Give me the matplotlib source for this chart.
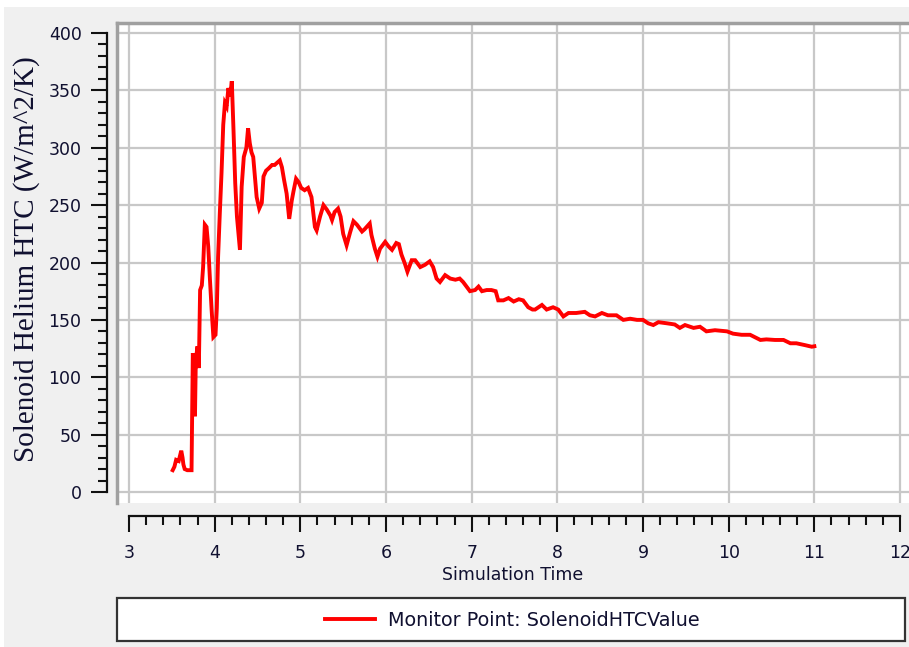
import matplotlib
matplotlib.use("Agg")
import matplotlib.pyplot as plt
from matplotlib.lines import Line2D
from matplotlib.patches import Rectangle
from matplotlib.ticker import MultipleLocator

# ---- data ----
time = [3.51, 3.53, 3.55, 3.58, 3.61, 3.625, 3.635, 3.65, 3.68, 3.73,
        3.745, 3.76, 3.77, 3.78, 3.80, 3.815, 3.83, 3.85, 3.865, 3.885,
        3.905, 3.925, 3.945, 3.965, 3.985, 4.01, 4.025, 4.04, 4.06, 4.08,
        4.10, 4.12, 4.14, 4.16, 4.18, 4.20, 4.22, 4.24, 4.26, 4.295,
        4.315, 4.34, 4.37, 4.39, 4.41, 4.43, 4.45, 4.47, 4.49, 4.52,
        4.55, 4.57, 4.60, 4.63, 4.67, 4.70, 4.73, 4.76, 4.785, 4.81,
        4.84, 4.87, 4.90, 4.92, 4.95, 4.98, 5.01, 5.05, 5.09, 5.13,
        5.17, 5.19, 5.23, 5.27, 5.31, 5.35, 5.37, 5.40, 5.44, 5.47,
        5.50, 5.54, 5.58, 5.62, 5.66, 5.72, 5.75, 5.81, 5.83, 5.87,
        5.90, 5.93, 5.99, 6.03, 6.07, 6.12, 6.15, 6.18, 6.22, 6.25,
        6.30, 6.34, 6.40, 6.455, 6.51, 6.55, 6.59, 6.63, 6.69, 6.75,
        6.81, 6.86, 6.90, 6.94, 6.98, 7.04, 7.08, 7.12, 7.175, 7.23,
        7.28, 7.31, 7.37, 7.43, 7.49, 7.55, 7.60, 7.66, 7.71, 7.74,
        7.82, 7.875, 7.95, 8.01, 8.07, 8.13, 8.22, 8.32, 8.38, 8.44,
        8.52, 8.59, 8.69, 8.77, 8.85, 8.93, 9.00, 9.06, 9.12, 9.18,
        9.28, 9.37, 9.43, 9.49, 9.59, 9.665, 9.74, 9.84, 9.98, 10.05,
        10.15, 10.25, 10.37, 10.44, 10.54, 10.64, 10.72, 10.79, 10.89, 10.97,
        11.00]
htc = [19, 22, 28, 27, 36, 30, 24, 20, 19, 19,
       121, 110, 66, 115, 127, 108, 176, 180, 196, 233,
       231, 214, 185, 158, 135, 137, 160, 205, 243, 278,
       320, 339, 336, 352, 345, 358, 315, 269, 240, 211,
       266, 292, 300, 317, 304, 296, 292, 275, 257, 247,
       252, 275, 280, 282, 285, 285, 287, 289, 283, 272,
       260, 238, 254, 262, 273, 270, 265, 263, 265, 257,
       231, 228, 240, 250, 246, 241, 237, 244, 247, 240,
       225, 215, 226, 236, 233, 227, 229, 234, 224, 212,
       205, 212, 218, 214, 211, 217, 216, 207, 199, 192,
       202, 202, 196, 198, 201, 196, 186, 183, 189, 186,
       185, 186, 183, 179, 175, 176, 179, 175, 176, 176,
       175, 167, 167, 169, 166, 168, 167, 161, 159, 159,
       163, 159, 161, 159, 153, 156, 156, 157, 154, 153,
       156, 154, 154, 150, 151, 150, 150, 147, 145.5, 148,
       147, 146, 143, 145.5, 143, 144, 140, 141, 140, 138,
       137, 137, 132.5, 133, 132.5, 132.5, 129.6, 129.6, 128, 126.6,
       127]

x_ticks = list(range(3, 13))
y_ticks = list(range(0, 401, 50))
series_label = "Monitor Point: SolenoidHTCValue"
x_label = "Simulation Time"
y_label = "Solenoid Helium HTC (W/m^2/K)"

# ---- figure ----
W, H = 909, 647
fig = plt.figure(figsize=(W / 100, H / 100), dpi=100)
fig.patch.set_facecolor("white")
# gray panel background (thin white margin at top/left as in reference)
fig.add_artist(Rectangle((4 / W, 0), 1, 1 - 7 / H, transform=fig.transFigure,
                         facecolor="#F0F0F0", edgecolor="none", zorder=-10))

ax = fig.add_axes([117 / W, 1 - 503 / H, (W - 117) / W, (503 - 23) / H])
ax.set_facecolor("white")

ax.plot(time, htc, color="#FF0000", lw=2.8, solid_joinstyle="miter", zorder=3,
        label=series_label)

ax.set_xlim(3 - 12 / 85.67, 3 + (W - 129) / 85.67)
ax.set_ylim(-(503 - 492) / 1.1475, 400 + 10 / 1.1475)

ax.set_xticks(x_ticks)
ax.set_yticks(y_ticks)
ax.xaxis.set_minor_locator(MultipleLocator(0.2))
ax.yaxis.set_minor_locator(MultipleLocator(10))
ax.grid(True, which="major", color="#C8C8C8", lw=1.6)
ax.set_axisbelow(True)

ax.spines["right"].set_visible(False)
ax.spines["top"].set_color("#A0A0A0")
ax.spines["top"].set_linewidth(2.5)

ax.spines["left"].set_position(("outward", 7))
ax.spines["left"].set_bounds(0, 400)
ax.spines["left"].set_linewidth(1.6)
ax.spines["left"].set_color("#111111")
ax.spines["bottom"].set_position(("outward", 9))
ax.spines["bottom"].set_bounds(3, 12)
ax.spines["bottom"].set_linewidth(1.6)
ax.spines["bottom"].set_color("#111111")

ax.tick_params(axis="both", which="major", direction="out", length=11.5, width=1.5,
               color="#111111", labelsize=12.5, labelcolor="#101030")
ax.tick_params(axis="both", which="minor", direction="out", length=6.5, width=1.5,
               color="#111111")
ax.tick_params(axis="y", which="major", pad=7)
ax.tick_params(axis="x", which="major", pad=9)

# gray left border of the plot area
ax.add_line(Line2D([0, 0], [0, 1], transform=ax.transAxes, color="#A0A0A0",
                   lw=2.5, clip_on=False, zorder=5))

# axis titles
fig.text(512.5 / W, 1 - 575 / H, x_label, ha="center", va="center",
         fontsize=12.5, color="#101030", family="DejaVu Sans")
fig.text(27 / W, 1 - 259 / H, y_label, ha="center", va="center", rotation=90,
         fontsize=21, color="#101030", family="Liberation Serif")

# legend box
fig.add_artist(Rectangle((117 / W, 1 - 641 / H), (905 - 117) / W, (641 - 598) / H,
                         transform=fig.transFigure, facecolor="white",
                         edgecolor="#333333", lw=1.6, zorder=1))
leg = fig.legend(loc="center", bbox_to_anchor=(512 / W, 1 - 620 / H),
                 frameon=False, fontsize=13.8, handlelength=2.6,
                 handletextpad=0.68, borderpad=0)
for t in leg.get_texts():
    t.set_color("#101030")
leg.set_zorder(2)

fig.savefig("out.png", dpi=100, facecolor=fig.get_facecolor())
